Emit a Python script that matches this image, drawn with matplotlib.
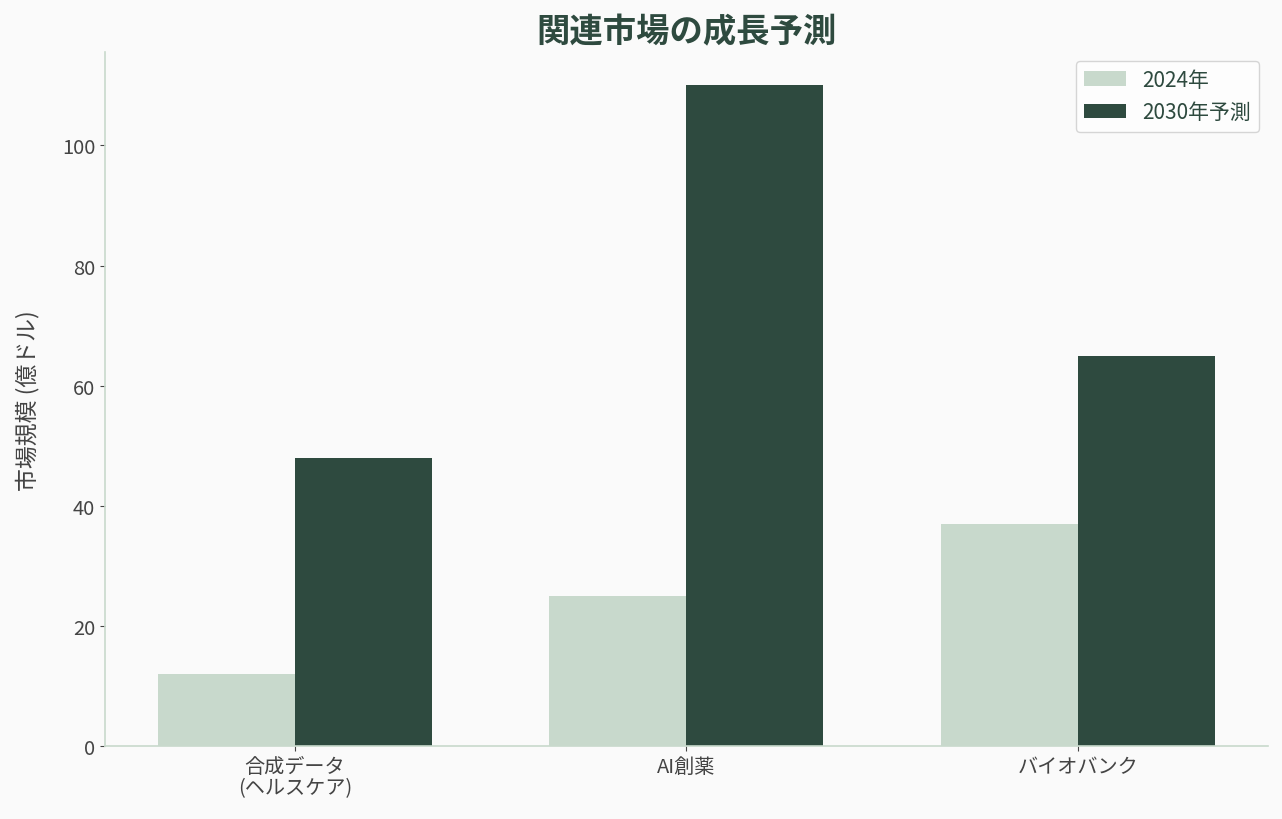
import matplotlib
matplotlib.use("Agg")
import matplotlib.pyplot as plt
import numpy as np

plt.rcParams['font.family'] = ['Noto Sans CJK JP', 'DejaVu Sans']

categories = ["合成データ\n(ヘルスケア)", "AI創薬", "バイオバンク"]
values_2024 = [12, 25, 37]
values_2030 = [48, 110, 65]
series_labels = ["2024年", "2030年予測"]

light = "#c8d9cc"
dark = "#2e4a3f"
bg = "#fafafa"
grey = "#444444"

fig = plt.figure(figsize=(12.82, 8.2), dpi=100, facecolor=bg)
ax = fig.add_axes([0.0819, 0.0890, 0.907, 0.846], facecolor=bg)

x = np.arange(len(categories))
w = 0.35
ax.bar(x - w/2, values_2024, w, color=light, label=series_labels[0])
ax.bar(x + w/2, values_2030, w, color=dark, label=series_labels[1])

ax.set_xticks(x)
ax.set_xticklabels(categories, fontsize=14.5, color=grey, linespacing=1.05)
ax.tick_params(axis='y', labelsize=14.5, labelcolor=grey, color=grey)
ax.tick_params(axis='x', color=grey)
ax.set_ylabel("市場規模 (億ドル)", fontsize=16.5, color=grey, labelpad=16)
ax.set_title("関連市場の成長予測", fontsize=24, fontweight='bold', color=dark, pad=8)

for s in ["top", "right"]:
    ax.spines[s].set_visible(False)
for s in ["left", "bottom"]:
    ax.spines[s].set_color(light)
    ax.spines[s].set_linewidth(1.2)

leg = ax.legend(fontsize=15, frameon=True, loc="upper right", borderaxespad=0.4)
for t in leg.get_texts():
    t.set_color(dark)
leg.get_frame().set_edgecolor("#cccccc")
leg.get_frame().set_facecolor("white")

fig.savefig("out.png", dpi=100, facecolor=bg)
